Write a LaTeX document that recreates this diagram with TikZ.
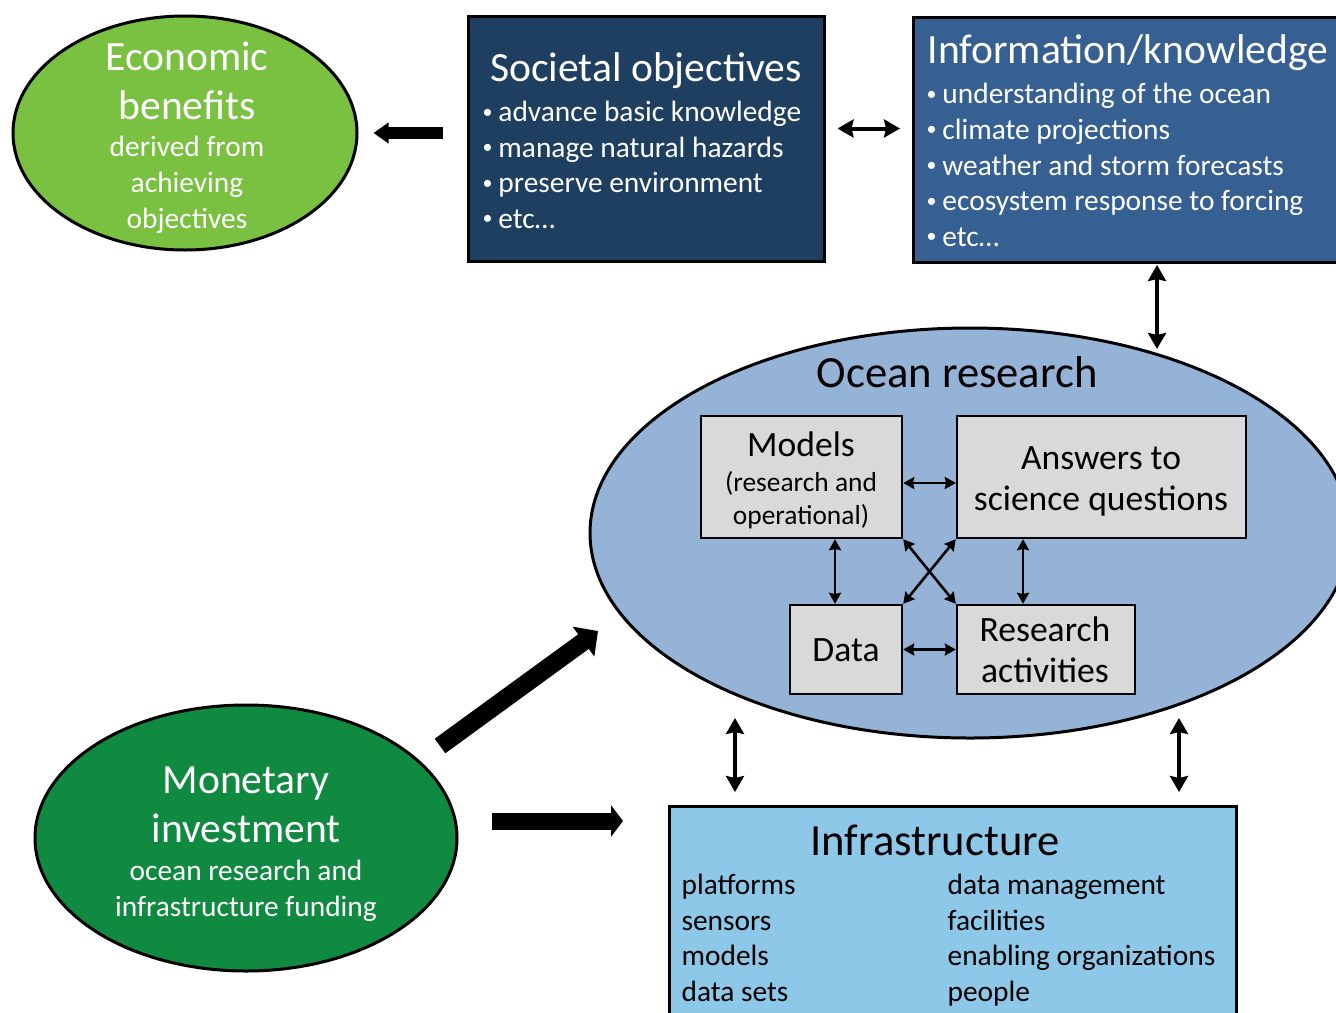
\documentclass[tikz,border=0pt]{standalone}
\usepackage{fontspec}
\setmainfont{Carlito}
\usepackage{xcolor}
\usetikzlibrary{shapes.geometric,arrows.meta}

\definecolor{econgreen}{RGB}{122,193,66}
\definecolor{moneygreen}{RGB}{16,137,65}
\definecolor{socblue}{RGB}{31,63,97}
\definecolor{infoblue}{RGB}{54,96,146}
\definecolor{oceanblue}{RGB}{149,179,215}
\definecolor{boxgray}{RGB}{217,217,217}
\definecolor{infrablue}{RGB}{141,200,232}

\newcommand{\bul}{\raisebox{0.12em}{\fontsize{10}{10}\selectfont•}\hspace{0.2em}}

\tikzset{
  oval/.style={shape=ellipse, draw=black, line width=1.5pt, inner sep=0pt},
  bigbox/.style={shape=rectangle, draw=black, line width=1.5pt, inner sep=0pt},
  smallbox/.style={shape=rectangle, draw=black, line width=1.2pt, fill=boxgray, inner sep=0pt},
  headtxt/.style={font=\fontsize{20.8}{24.5}\selectfont, align=center, inner sep=0pt},
  bigtxt/.style={font=\fontsize{22.3}{26}\selectfont, inner sep=0pt},
  bodytxt/.style={font=\fontsize{14.7}{17.8}\selectfont, inner sep=0pt},
  midtxt/.style={font=\fontsize{17.8}{20.5}\selectfont, align=center, inner sep=0pt},
  smalltxt/.style={font=\fontsize{13.7}{16.5}\selectfont, align=center, inner sep=0pt},
  twoway/.style={<->, line width=2pt},
  thinway/.style={{Stealth[length=5.5pt,width=6pt,inset=0.6pt]}-{Stealth[length=5.5pt,width=6pt,inset=0.6pt]}, line width=1.3pt}
}

\begin{document}
\begin{tikzpicture}[
            x = 0.5pt, y = -0.5pt, % pixel grid of the figure
            > = {Stealth[length=8pt,width=9pt,inset=1pt]}, % arrow head style
            semithick % line style
        ]
\useasboundingbox (0,0) rectangle (1336,1012);

% shapes
\node[oval, fill=econgreen, minimum width=172pt, minimum height=117pt] (E) at (185,133) {};
\node[bigbox, fill=socblue, minimum width=178pt, minimum height=122.5pt] (S) at (646,138.5) {};
\node[bigbox, fill=infoblue, minimum width=218pt, minimum height=122.5pt, anchor=north west] (K) at (912,16) {};
\node[oval, fill=oceanblue, minimum width=380pt, minimum height=205pt] (O) at (970,533) {};
\node[bigbox, fill=infrablue, minimum width=283.5pt, minimum height=120pt, anchor=north west] (I) at (668,805) {};
\node[oval, fill=moneygreen, minimum width=211pt, minimum height=133pt] (V) at (246,838) {};

\node[smallbox, minimum width=100.5pt, minimum height=61pt] (M) at (801.5,477) {};
\node[smallbox, minimum width=144.5pt, minimum height=61pt] (A) at (1101.5,477) {};
\node[smallbox, minimum width=56pt, minimum height=44.5pt] (D) at (846,649.5) {};
\node[smallbox, minimum width=89pt, minimum height=44.5pt] (R) at (1046,649.5) {};

% texts
\node[headtxt, white] (Et) at (187,81) {Economic\\benefits};
\node[bodytxt, white, align=center, font=\fontsize{14.7}{18}\selectfont] (Es) at (187,185) {derived from\\achieving\\objectives};

\node[headtxt, white] (St) at (646,71) {Societal objectives};
\node[bodytxt, white, align=left, anchor=west] (Sl) at (482,165) {\bul advance basic knowledge\\\bul manage natural hazards\\\bul preserve environment\\\bul etc…};

\node[headtxt, white, anchor=west] (Kt) at (927,53) {Information/knowledge};
\node[bodytxt, white, align=left, anchor=west] (Kl) at (926,165) {\bul understanding of the ocean\\\bul climate projections\\\bul weather and storm forecasts\\\bul ecosystem response to forcing\\\bul etc…};

\node[bigtxt] (Ot) at (957,372) {Ocean research};
\node[midtxt] (Mt) at (801,444) {Models};
\node[smalltxt] (Ms) at (801,500) {(research and\\operational)};
\node[midtxt] (At) at (1101,481) {Answers to\\science questions};
\node[midtxt] (Dt) at (846,650) {Data};
\node[midtxt] (Rt) at (1045,650) {Research\\activities};

\node[bigtxt] (It) at (935,840) {Infrastructure};
\node[bodytxt, align=left, anchor=west] (Il) at (681,938) {platforms\\sensors\\models\\data sets};
\node[bodytxt, align=left, anchor=west] (Ir) at (947,940) {data management\\facilities\\enabling organizations\\people};

\node[headtxt, white] (Vt) at (246,805) {Monetary\\investment};
\node[bodytxt, white, align=center] (Vs) at (246,891) {ocean research and\\infrastructure funding};

% connectors
\coordinate (Otop) at (1157,349);
\coordinate (Oleft) at (735,718);
\coordinate (Oright) at (1179,718);
\coordinate (Vtail) at (440,746);
\coordinate (Otip) at (598,631);

\draw[line width=6pt, -{Triangle[width=10pt,length=7.5pt]}, shorten <=12pt, shorten >=7.5pt] (S.west |- E.east) -- (E.east);
\draw[twoway, shorten <=6pt, shorten >=6pt] ([yshift=5pt]S.east) -- ([yshift=5pt]S.east -| K.west);
\draw[twoway, shorten <=0.5pt] (K.south -| Otop) -- (Otop);
\draw[twoway, shorten >=6.5pt] (Oleft) -- (Oleft |- I.north);
\draw[twoway, shorten >=6.5pt] (Oright) -- (Oright |- I.north);

\draw[thinway] ([yshift=-3pt]M.east) -- ([yshift=-3pt]M.east -| A.west);
\draw[thinway] (D.east) -- (R.west);
\draw[thinway] ([xshift=-5.5pt]D.north) -- ([xshift=-5.5pt]D.north |- M.south);
\draw[thinway] ([xshift=-11.5pt]R.north) -- ([xshift=-11.5pt]R.north |- A.south);
\draw[thinway] (M.south east) -- (R.north west);
\draw[thinway] (A.south west) -- (D.north east);

\draw[line width=9pt, -{Triangle[width=18pt,length=9pt]}] (Vtail) -- (Otip);
\draw[line width=8.5pt, -{Triangle[width=15.5pt,length=6pt]}, shorten <=16.5pt, shorten >=22.5pt] ([yshift=8.5pt]V.east) -- ([yshift=8.5pt]V.east -| I.west);
\end{tikzpicture}
\end{document}
